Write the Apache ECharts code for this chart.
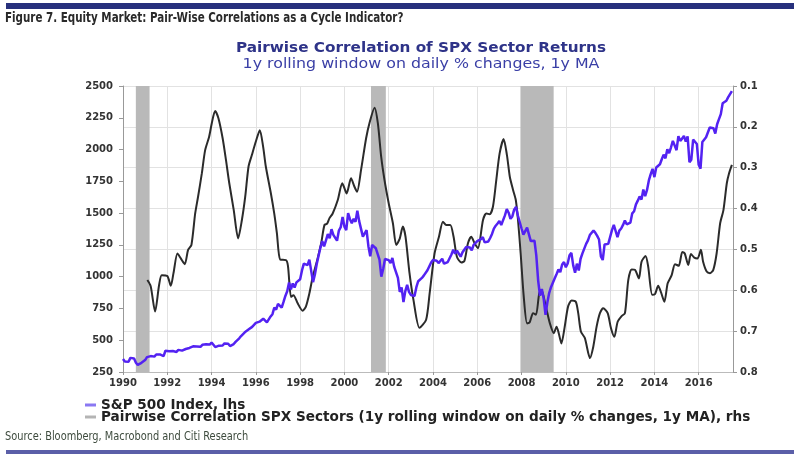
<!DOCTYPE html>
<html>
<head>
<meta charset="utf-8">
<script src="https://cdn.jsdelivr.net/npm/echarts@6/dist/echarts.min.js"></script>
<style>
  html, body { margin: 0; padding: 0; background: #fff; }
  #main { width: 800px; height: 458px; }
</style>
</head>
<body>
<div id="main"></div>
<script>
// S&P 500 monthly level, Jan 1990 .. Jul 2017
var spxStart = 1990;
var spxMonthly = [
  352, 332, 340, 331, 361, 358, 356, 323, 306, 304, 322, 330,
  344, 367, 375, 375, 390, 371, 388, 395, 388, 392, 375, 417,
  409, 413, 404, 415, 415, 408, 424, 414, 418, 419, 431, 436,
  439, 443, 452, 440, 450, 451, 448, 464, 459, 468, 462, 466,
  482, 467, 446, 451, 457, 444, 458, 475, 463, 472, 454, 459,
  470, 487, 500, 515, 533, 545, 562, 562, 584, 582, 605, 616,
  636, 640, 646, 654, 669, 671, 640, 652, 687, 705, 757, 741,
  786, 791, 757, 801, 848, 885, 954, 899, 947, 915, 955, 970,
  980, 1049, 1102, 1112, 1091, 1134, 1121, 957, 1017, 1099, 1164, 1229,
  1280, 1238, 1286, 1335, 1302, 1373, 1329, 1320, 1283, 1363, 1389, 1469,
  1394, 1366, 1499, 1452, 1421, 1455, 1431, 1518, 1437, 1429, 1315, 1320,
  1366, 1240, 1160, 1249, 1256, 1224, 1211, 1134, 1000, 1060, 1139, 1148,
  1130, 1107, 1147, 1077, 1067, 990, 880, 916, 800, 886, 936, 880,
  856, 841, 848, 917, 964, 975, 990, 1008, 996, 1051, 1058, 1112,
  1131, 1145, 1126, 1107, 1121, 1141, 1102, 1104, 1115, 1130, 1174, 1212,
  1181, 1204, 1181, 1157, 1192, 1191, 1234, 1220, 1229, 1207, 1249, 1248,
  1280, 1281, 1295, 1311, 1270, 1270, 1277, 1304, 1336, 1378, 1401, 1418,
  1438, 1407, 1421, 1482, 1531, 1503, 1455, 1474, 1527, 1549, 1481, 1468,
  1379, 1331, 1323, 1386, 1400, 1280, 1267, 1283, 1165, 969, 850, 903,
  826, 700, 798, 873, 919, 919, 987, 1021, 1057, 1036, 1096, 1115,
  1074, 1104, 1169, 1187, 1089, 1031, 1102, 1049, 1141, 1183, 1181, 1258,
  1286, 1327, 1326, 1364, 1345, 1321, 1292, 1160, 1131, 1253, 1247, 1258,
  1312, 1366, 1408, 1398, 1310, 1362, 1379, 1407, 1441, 1412, 1416, 1426,
  1498, 1515, 1569, 1598, 1631, 1606, 1686, 1633, 1682, 1757, 1806, 1848,
  1783, 1859, 1872, 1884, 1924, 1960, 1931, 2003, 1972, 2018, 2068, 2059,
  1995, 2105, 2068, 2086, 2107, 2063, 2104, 1900, 1920, 2079, 2080, 2044,
  1880, 1850, 2060, 2065, 2097, 2099, 2174, 2171, 2168, 2126, 2199, 2239,
  2279, 2364, 2363, 2384, 2412, 2423, 2460
];

// pairwise correlation of SPX sectors (1y MA), rhs inverted
var corrYears = [
  1991.10, 1991.25, 1991.45, 1991.63, 1991.75, 1992.00, 1992.16, 1992.28, 1992.46, 1992.61,
  1992.79, 1992.94, 1993.09, 1993.26, 1993.39, 1993.56, 1993.71, 1993.89, 1994.01, 1994.16,
  1994.31, 1994.50, 1994.65, 1994.80, 1995.00, 1995.20, 1995.37, 1995.52, 1995.67, 1995.82,
  1996.00, 1996.18, 1996.33, 1996.45, 1996.68, 1996.83, 1996.95, 1997.10, 1997.36, 1997.45,
  1997.59, 1997.70, 1997.89, 1998.11, 1998.26, 1998.42, 1998.57, 1998.79, 1998.95, 1999.10,
  1999.22, 1999.32, 1999.47, 1999.70, 1999.90, 2000.00, 2000.10, 2000.30, 2000.45, 2000.57,
  2000.75, 2000.98, 2001.13, 2001.36, 2001.51, 2001.66, 2001.81, 2002.00, 2002.19, 2002.34,
  2002.49, 2002.64, 2002.76, 2002.94, 2003.12, 2003.39, 2003.69, 2003.85, 2004.07, 2004.27,
  2004.45, 2004.60, 2004.78, 2004.93, 2005.08, 2005.28, 2005.42, 2005.58, 2005.73, 2005.88,
  2006.03, 2006.26, 2006.41, 2006.56, 2006.71, 2006.86, 2007.01, 2007.19, 2007.34, 2007.47,
  2007.62, 2007.74, 2007.84, 2007.96, 2008.10, 2008.25, 2008.37, 2008.52, 2008.65, 2008.80,
  2008.90, 2009.10, 2009.28, 2009.46, 2009.58, 2009.68, 2009.80, 2009.95, 2010.10, 2010.26,
  2010.45, 2010.56, 2010.68, 2010.86, 2011.09, 2011.24, 2011.39, 2011.54, 2011.69, 2011.89,
  2012.04, 2012.19, 2012.34, 2012.52, 2012.67, 2012.82, 2012.97, 2013.12, 2013.30, 2013.42,
  2013.60, 2013.72, 2013.90, 2014.03, 2014.17, 2014.30, 2014.45, 2014.60, 2014.78, 2014.93,
  2015.10, 2015.26, 2015.37, 2015.53, 2015.65, 2015.80, 2015.95, 2016.10, 2016.20, 2016.36,
  2016.51, 2016.66, 2016.81, 2016.97, 2017.12, 2017.27, 2017.37, 2017.50
];
var corrValues = [
  0.575, 0.590, 0.652, 0.587, 0.563, 0.565, 0.589, 0.558, 0.510, 0.522,
  0.536, 0.501, 0.489, 0.412, 0.371, 0.314, 0.257, 0.224, 0.191, 0.161,
  0.179, 0.228, 0.281, 0.338, 0.403, 0.473, 0.428, 0.371, 0.297, 0.269,
  0.236, 0.208, 0.249, 0.297, 0.363, 0.412, 0.460, 0.525, 0.526, 0.540,
  0.616, 0.612, 0.632, 0.650, 0.640, 0.607, 0.567, 0.522, 0.485, 0.440,
  0.437, 0.424, 0.412, 0.379, 0.338, 0.350, 0.363, 0.326, 0.346, 0.359,
  0.306, 0.228, 0.191, 0.153, 0.191, 0.273, 0.330, 0.387, 0.436, 0.489,
  0.475, 0.444, 0.469, 0.558, 0.624, 0.692, 0.672, 0.607, 0.510, 0.469,
  0.432, 0.440, 0.440, 0.469, 0.518, 0.532, 0.528, 0.485, 0.469, 0.485,
  0.497, 0.428, 0.412, 0.414, 0.395, 0.330, 0.265, 0.230, 0.269, 0.322,
  0.355, 0.379, 0.428, 0.510, 0.616, 0.681, 0.678, 0.656, 0.660, 0.607,
  0.600, 0.640, 0.681, 0.705, 0.689, 0.705, 0.730, 0.689, 0.640, 0.625,
  0.628, 0.656, 0.701, 0.717, 0.766, 0.738, 0.689, 0.656, 0.644, 0.656,
  0.693, 0.714, 0.677, 0.663, 0.656, 0.575, 0.549, 0.550, 0.571, 0.530,
  0.516, 0.542, 0.611, 0.609, 0.589, 0.605, 0.628, 0.583, 0.563, 0.536,
  0.540, 0.506, 0.510, 0.538, 0.511, 0.520, 0.522, 0.501, 0.530, 0.554,
  0.558, 0.550, 0.510, 0.436, 0.403, 0.338, 0.314, 0.293
];

// US recessions (shaded)
var recessionStart = [1990.58, 2001.20, 2007.95];
var recessionEnd   = [1991.20, 2001.87, 2009.45];

var spxData = [];
for (var i = 0; i < spxMonthly.length; i++) {
  spxData.push([spxStart + i / 12, spxMonthly[i]]);
}
var corrData = [];
for (var j = 0; j < corrYears.length; j++) {
  corrData.push([corrYears[j], corrValues[j]]);
}
var shading = [];
for (var k = 0; k < recessionStart.length; k++) {
  shading.push([{ xAxis: recessionStart[k] }, { xAxis: recessionEnd[k] }]);
}

var narrow = "'Liberation Sans Narrow', 'DejaVu Sans Condensed', sans-serif";
var axisFont = { fontFamily: 'DejaVu Sans', fontWeight: 'bold', fontSize: 10, color: '#333' };
var corrName = 'Pairwise Correlation SPX Sectors (1y rolling window on daily % changes, 1y MA), rhs';
var spxName = 'S&P 500 Index, lhs';

var chart = echarts.init(document.getElementById('main'), null, { renderer: 'canvas' });

var option = {
  backgroundColor: '#fff',
  animation: false,
  legend: {
    orient: 'vertical',
    left: 80,
    top: 393,
    itemGap: -2,
    itemWidth: 11,
    itemHeight: 3,
    icon: 'rect',
    textStyle: { fontFamily: 'DejaVu Sans', fontWeight: 'bold', fontSize: 13.6, lineHeight: 12, color: '#222' },
    data: [
      { name: spxName, itemStyle: { color: '#8a78f2' } },
      { name: corrName, itemStyle: { color: '#b4b4b4' } }
    ]
  },
  grid: { left: 123, right: 67, top: 86, bottom: 86 },
  xAxis: {
    type: 'value',
    min: 1990,
    max: 2017.55,
    interval: 2,
    axisLine: { show: true, lineStyle: { color: '#bbb' } },
    axisTick: { show: true, length: 3, lineStyle: { color: '#999' } },
    axisLabel: Object.assign({
      margin: 6,
      showMaxLabel: false,
      formatter: function (v) { return Math.abs(v % 2) < 1e-6 ? String(v) : ''; }
    }, axisFont),
    splitLine: { show: true, lineStyle: { color: '#e2e2e2' } }
  },
  yAxis: [
    {
      type: 'value',
      position: 'left',
      min: 250,
      max: 2500,
      interval: 250,
      axisLine: { show: true, lineStyle: { color: '#999' } },
      axisTick: { show: true, length: 4, lineStyle: { color: '#999' } },
      axisLabel: Object.assign({
        margin: 10,
        formatter: function (v) { return String(v); }
      }, axisFont),
      splitLine: { show: false }
    },
    {
      type: 'value',
      position: 'right',
      inverse: true,
      min: 0.1,
      max: 0.8,
      interval: 0.1,
      axisLine: { show: true, lineStyle: { color: '#999' } },
      axisTick: { show: true, length: 4, lineStyle: { color: '#999' } },
      axisLabel: Object.assign({
        margin: 7,
        formatter: function (v) { return v.toFixed(1); }
      }, axisFont),
      splitLine: { show: true, lineStyle: { color: '#e2e2e2' } }
    }
  ],
  series: [
    {
      name: corrName,
      type: 'line',
      yAxisIndex: 1,
      data: corrData,
      smooth: 0.25,
      showSymbol: false,
      z: 2,
      lineStyle: { color: '#2b2b2b', width: 2 },
      itemStyle: { color: '#b4b4b4' },
      markArea: {
        silent: true,
        itemStyle: { color: '#b9b9b9' },
        data: shading
      }
    },
    {
      name: spxName,
      type: 'line',
      yAxisIndex: 0,
      data: spxData,
      showSymbol: false,
      z: 3,
      lineStyle: { color: '#5322f2', width: 2.5 },
      itemStyle: { color: '#8a78f2' }
    }
  ],
  graphic: [
    { type: 'rect', left: 6, top: 3, shape: { width: 788, height: 6 }, style: { fill: '#27307c' } },
    {
      type: 'text', x: 5, y: 18, scaleX: 0.82,
      style: {
        text: 'Figure 7. Equity Market: Pair-Wise Correlations as a Cycle Indicator?',
        font: 'bold 14px ' + narrow, fill: '#2a2a2a', textVerticalAlign: 'middle'
      }
    },
    {
      type: 'text', x: 421, y: 48, scaleX: 1.09,
      style: {
        text: 'Pairwise Correlation of SPX Sector Returns',
        font: 'bold 14px DejaVu Sans', fill: '#2e3388', textAlign: 'center', textVerticalAlign: 'middle'
      }
    },
    {
      type: 'text', x: 421, y: 64, scaleX: 1.13,
      style: {
        text: '1y rolling window on daily % changes, 1y MA',
        font: '14px DejaVu Sans', fill: '#3a3fa6', textAlign: 'center', textVerticalAlign: 'middle'
      }
    },
    {
      type: 'text', x: 5, y: 437, scaleX: 0.84,
      style: {
        text: 'Source: Bloomberg, Macrobond and Citi Research',
        font: '13px ' + narrow, fill: '#3d4a3d', textVerticalAlign: 'middle'
      }
    },
    { type: 'rect', left: 6, top: 450, shape: { width: 788, height: 4 }, style: { fill: '#5b5fa8' } }
  ]
};

chart.setOption(option);
</script>
</body>
</html>
